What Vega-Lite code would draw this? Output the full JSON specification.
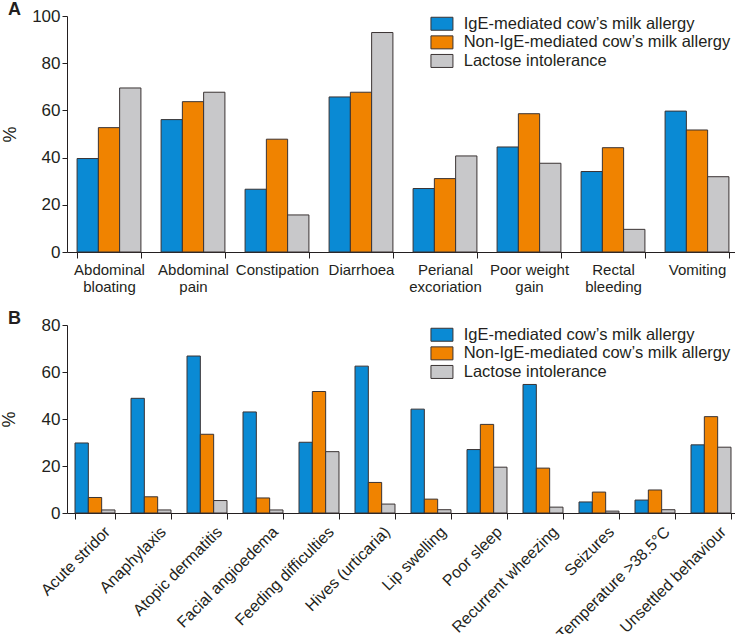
{
  "$schema": "https://vega.github.io/schema/vega-lite/v6.json",
  "background": "white",
  "padding": {"left": 0, "top": 1, "right": 0, "bottom": 0},
  "spacing": 16,
  "config": {
    "font": "Liberation Sans",
    "view": {"stroke": null},
    "axis": {
      "labelFont": "Liberation Sans",
      "labelColor": "#231f20",
      "domainColor": "#231f20",
      "tickColor": "#231f20",
      "titleColor": "#231f20",
      "titleFont": "Liberation Sans",
      "titleFontWeight": "normal",
      "grid": false
    },
    "legend": {
      "orient": "none",
      "legendX": 366.7,
      "legendY": -0.5,
      "padding": 0,
      "symbolType": "M-1.5,-0.886H1.5V0.886H-1.5Z",
      "symbolSize": 215,
      "symbolStrokeColor": "#3a3333",
      "symbolStrokeWidth": 1,
      "symbolOpacity": 1,
      "labelFont": "Liberation Sans",
      "labelFontSize": 16.5,
      "labelColor": "#231f20",
      "labelOffset": 13.5,
      "labelLimit": 400,
      "rowPadding": 0.6
    },
    "title": {"font": "Liberation Sans", "fontSize": 18, "fontWeight": "bold", "color": "#231f20"}
  },
  "datasets": {
    "gi": [
      {"symptom": "Abdominal bloating", "group": "IgE-mediated cow’s milk allergy", "value": 39.6},
      {"symptom": "Abdominal bloating", "group": "Non-IgE-mediated cow’s milk allergy", "value": 52.7},
      {"symptom": "Abdominal bloating", "group": "Lactose intolerance", "value": 69.5},
      {"symptom": "Abdominal pain", "group": "IgE-mediated cow’s milk allergy", "value": 56.1},
      {"symptom": "Abdominal pain", "group": "Non-IgE-mediated cow’s milk allergy", "value": 63.7},
      {"symptom": "Abdominal pain", "group": "Lactose intolerance", "value": 67.7},
      {"symptom": "Constipation", "group": "IgE-mediated cow’s milk allergy", "value": 26.6},
      {"symptom": "Constipation", "group": "Non-IgE-mediated cow’s milk allergy", "value": 47.8},
      {"symptom": "Constipation", "group": "Lactose intolerance", "value": 15.7},
      {"symptom": "Diarrhoea", "group": "IgE-mediated cow’s milk allergy", "value": 65.7},
      {"symptom": "Diarrhoea", "group": "Non-IgE-mediated cow’s milk allergy", "value": 67.7},
      {"symptom": "Diarrhoea", "group": "Lactose intolerance", "value": 93.0},
      {"symptom": "Perianal excoriation", "group": "IgE-mediated cow’s milk allergy", "value": 26.9},
      {"symptom": "Perianal excoriation", "group": "Non-IgE-mediated cow’s milk allergy", "value": 31.1},
      {"symptom": "Perianal excoriation", "group": "Lactose intolerance", "value": 40.7},
      {"symptom": "Poor weight gain", "group": "IgE-mediated cow’s milk allergy", "value": 44.5},
      {"symptom": "Poor weight gain", "group": "Non-IgE-mediated cow’s milk allergy", "value": 58.6},
      {"symptom": "Poor weight gain", "group": "Lactose intolerance", "value": 37.6},
      {"symptom": "Rectal bleeding", "group": "IgE-mediated cow’s milk allergy", "value": 34.1},
      {"symptom": "Rectal bleeding", "group": "Non-IgE-mediated cow’s milk allergy", "value": 44.2},
      {"symptom": "Rectal bleeding", "group": "Lactose intolerance", "value": 9.6},
      {"symptom": "Vomiting", "group": "IgE-mediated cow’s milk allergy", "value": 59.7},
      {"symptom": "Vomiting", "group": "Non-IgE-mediated cow’s milk allergy", "value": 51.7},
      {"symptom": "Vomiting", "group": "Lactose intolerance", "value": 31.9}
    ],
    "other": [
      {"symptom": "Acute stridor", "group": "IgE-mediated cow’s milk allergy", "value": 29.8},
      {"symptom": "Acute stridor", "group": "Non-IgE-mediated cow’s milk allergy", "value": 6.6},
      {"symptom": "Acute stridor", "group": "Lactose intolerance", "value": 1.3},
      {"symptom": "Anaphylaxis", "group": "IgE-mediated cow’s milk allergy", "value": 48.8},
      {"symptom": "Anaphylaxis", "group": "Non-IgE-mediated cow’s milk allergy", "value": 6.9},
      {"symptom": "Anaphylaxis", "group": "Lactose intolerance", "value": 1.3},
      {"symptom": "Atopic dermatitis", "group": "IgE-mediated cow’s milk allergy", "value": 66.8},
      {"symptom": "Atopic dermatitis", "group": "Non-IgE-mediated cow’s milk allergy", "value": 33.5},
      {"symptom": "Atopic dermatitis", "group": "Lactose intolerance", "value": 5.3},
      {"symptom": "Facial angioedema", "group": "IgE-mediated cow’s milk allergy", "value": 43.0},
      {"symptom": "Facial angioedema", "group": "Non-IgE-mediated cow’s milk allergy", "value": 6.4},
      {"symptom": "Facial angioedema", "group": "Lactose intolerance", "value": 1.3},
      {"symptom": "Feeding difficulties", "group": "IgE-mediated cow’s milk allergy", "value": 30.1},
      {"symptom": "Feeding difficulties", "group": "Non-IgE-mediated cow’s milk allergy", "value": 51.7},
      {"symptom": "Feeding difficulties", "group": "Lactose intolerance", "value": 26.1},
      {"symptom": "Hives (urticaria)", "group": "IgE-mediated cow’s milk allergy", "value": 62.5},
      {"symptom": "Hives (urticaria)", "group": "Non-IgE-mediated cow’s milk allergy", "value": 13.0},
      {"symptom": "Hives (urticaria)", "group": "Lactose intolerance", "value": 3.8},
      {"symptom": "Lip swelling", "group": "IgE-mediated cow’s milk allergy", "value": 44.2},
      {"symptom": "Lip swelling", "group": "Non-IgE-mediated cow’s milk allergy", "value": 5.9},
      {"symptom": "Lip swelling", "group": "Lactose intolerance", "value": 1.4},
      {"symptom": "Poor sleep", "group": "IgE-mediated cow’s milk allergy", "value": 27.0},
      {"symptom": "Poor sleep", "group": "Non-IgE-mediated cow’s milk allergy", "value": 37.7},
      {"symptom": "Poor sleep", "group": "Lactose intolerance", "value": 19.5},
      {"symptom": "Recurrent wheezing", "group": "IgE-mediated cow’s milk allergy", "value": 54.7},
      {"symptom": "Recurrent wheezing", "group": "Non-IgE-mediated cow’s milk allergy", "value": 19.1},
      {"symptom": "Recurrent wheezing", "group": "Lactose intolerance", "value": 2.5},
      {"symptom": "Seizures", "group": "IgE-mediated cow’s milk allergy", "value": 4.7},
      {"symptom": "Seizures", "group": "Non-IgE-mediated cow’s milk allergy", "value": 8.9},
      {"symptom": "Seizures", "group": "Lactose intolerance", "value": 0.8},
      {"symptom": "Temperature >38.5°C", "group": "IgE-mediated cow’s milk allergy", "value": 5.5},
      {"symptom": "Temperature >38.5°C", "group": "Non-IgE-mediated cow’s milk allergy", "value": 9.8},
      {"symptom": "Temperature >38.5°C", "group": "Lactose intolerance", "value": 1.4},
      {"symptom": "Unsettled behaviour", "group": "IgE-mediated cow’s milk allergy", "value": 29.0},
      {"symptom": "Unsettled behaviour", "group": "Non-IgE-mediated cow’s milk allergy", "value": 41.0},
      {"symptom": "Unsettled behaviour", "group": "Lactose intolerance", "value": 28.0}
    ]
  },
  "resolve": {"legend": {"color": "independent"}, "scale": {"color": "independent", "xOffset": "independent"}},
  "vconcat": [
    {
      "title": {"text": "A", "anchor": "start", "frame": "group", "dx": -59, "offset": -12},
      "width": 672,
      "height": 236,
      "data": {"name": "gi"},
      "mark": {"type": "bar", "stroke": "#3a3333", "strokeWidth": 1},
      "encoding": {
        "x": {
          "field": "symptom", "type": "nominal", "sort": null,
          "scale": {"paddingInner": 0.24, "paddingOuter": 0.12},
          "axis": {
            "title": null, "labelAngle": 0, "labelFontSize": 15, "labelLineHeight": 17,
            "labelExpr": "datum.label == 'Poor weight gain' ? ['Poor weight', 'gain'] : split(datum.label, ' ')",
            "tickBand": "extent", "tickSize": 6, "labelPadding": 4
          }
        },
        "xOffset": {"field": "group", "sort": ["IgE-mediated cow’s milk allergy", "Non-IgE-mediated cow’s milk allergy", "Lactose intolerance"]},
        "y": {
          "field": "value", "type": "quantitative",
          "scale": {"domain": [0, 100]},
          "axis": {"title": "%", "values": [0, 20, 40, 60, 80, 100], "tickSize": 5, "labelFontSize": 17, "titleFontSize": 18, "titlePadding": 12}
        },
        "color": {
          "field": "group", "type": "nominal",
          "scale": {"domain": ["IgE-mediated cow’s milk allergy", "Non-IgE-mediated cow’s milk allergy", "Lactose intolerance"], "range": ["#0a8ad4", "#f08300", "#c8c8ca"]},
          "legend": {"title": null}
        }
      }
    },
    {
      "title": {"text": "B", "anchor": "start", "frame": "group", "dx": -59, "offset": -12},
      "width": 672,
      "height": 188,
      "data": {"name": "other"},
      "mark": {"type": "bar", "stroke": "#3a3333", "strokeWidth": 1},
      "encoding": {
        "x": {
          "field": "symptom", "type": "nominal", "sort": null,
          "scale": {"paddingInner": 0.286, "paddingOuter": 0.143},
          "axis": {"title": null, "labelAngle": -45, "labelAlign": "right", "labelBaseline": "middle", "labelOffset": 12, "labelFontSize": 16, "tickBand": "extent", "tickSize": 6, "labelPadding": 10}
        },
        "xOffset": {"field": "group", "sort": ["IgE-mediated cow’s milk allergy", "Non-IgE-mediated cow’s milk allergy", "Lactose intolerance"]},
        "y": {
          "field": "value", "type": "quantitative",
          "scale": {"domain": [0, 80]},
          "axis": {"title": "%", "values": [0, 20, 40, 60, 80], "tickSize": 5, "labelFontSize": 17, "titleFontSize": 18, "titlePadding": 23}
        },
        "color": {
          "field": "group", "type": "nominal",
          "scale": {"domain": ["IgE-mediated cow’s milk allergy", "Non-IgE-mediated cow’s milk allergy", "Lactose intolerance"], "range": ["#0a8ad4", "#f08300", "#c8c8ca"]},
          "legend": {"title": null, "legendY": 1.5}
        }
      }
    }
  ]
}
